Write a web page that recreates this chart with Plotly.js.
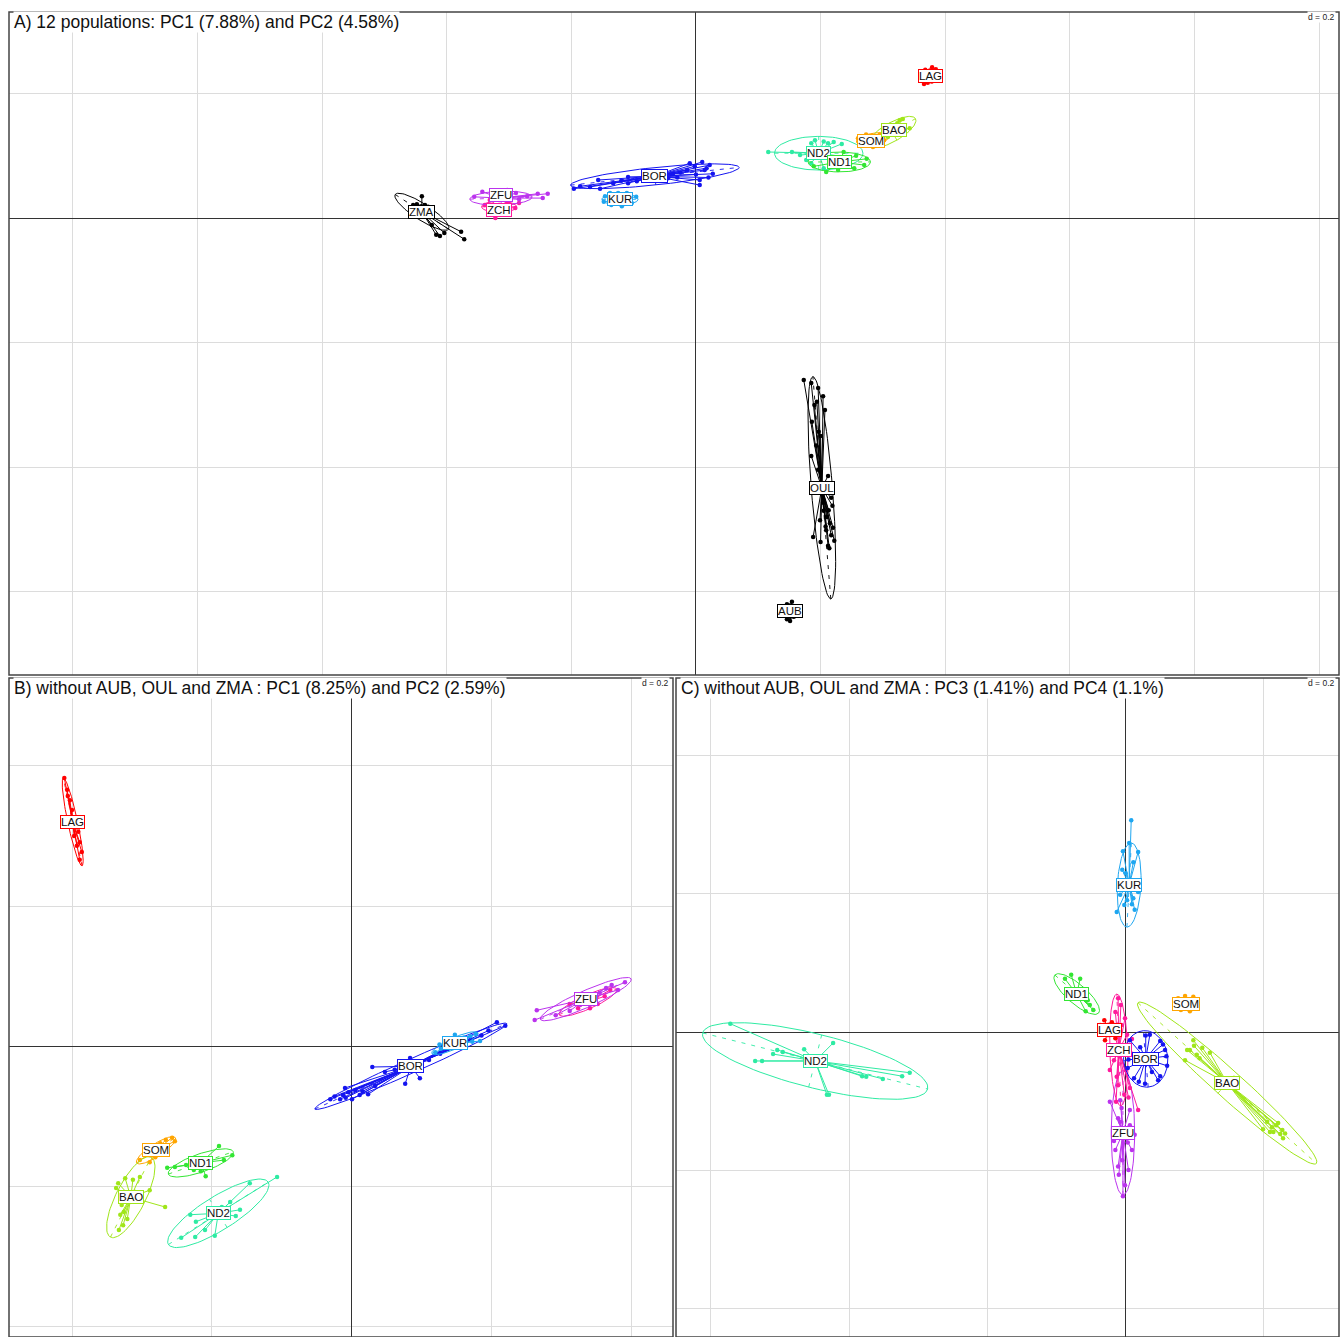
<!DOCTYPE html>
<html><head><meta charset="utf-8">
<script src="https://cdn.plot.ly/plotly-3.0.1.min.js"></script>
<style>html,body{margin:0;padding:0;background:#fff}#chart{width:1341px;height:1337px}</style>
</head><body><div id="chart"></div>
<script>
// ---------------- DATA ----------------
// Panel A: 12 populations, PC1 vs PC2
const A_pops = ['AUB','OUL','ZMA','ZCH','ZFU','KUR','BOR','ND2','ND1','SOM','BAO','LAG'];
const A_cx  = [0.151, 0.202,-0.440,-0.316,-0.313,-0.122,-0.066, 0.197, 0.230, 0.284, 0.315, 0.377];
const A_cy  = [-0.631,-0.433, 0.010, 0.018, 0.032, 0.030, 0.067, 0.104, 0.090, 0.127, 0.138, 0.228];
const A_ea  = [0.012, 0.179, 0.051, 0.028, 0.050, 0.029, 0.136, 0.071, 0.050, 0.027, 0.043, 0.012];
const A_eb  = [0.009, 0.017, 0.013, 0.009, 0.011, 0.009, 0.014, 0.027, 0.016, 0.009, 0.015, 0.007];
const A_ang = [90, 94.6, -33, 0, 2, 0, 6, 0, 0, 10, 30, 100];
const A_pts = [
 [[0.146,-0.620],[0.154,-0.616],[0.159,-0.626],[0.157,-0.640],[0.146,-0.644],[0.151,-0.647],[0.144,-0.634]],
 [[0.173,-0.260],[0.185,-0.265],[0.196,-0.273],[0.204,-0.286],[0.194,-0.295],[0.186,-0.327],[0.197,-0.343],[0.185,-0.382],[0.212,-0.414],[0.188,-0.512],[0.199,-0.485],[0.209,-0.501],[0.217,-0.509],[0.222,-0.518],[0.212,-0.526],[0.213,-0.469],[0.204,-0.457],[0.217,-0.449],[0.196,-0.404],[0.207,-0.308],
  [0.205,-0.470],[0.210,-0.480],[0.215,-0.490],[0.220,-0.497],[0.206,-0.440],[0.200,-0.520],[0.214,-0.530],[0.219,-0.462],[0.190,-0.300],[0.200,-0.350],[0.193,-0.365],[0.208,-0.495]],
 [[-0.454,0.021],[-0.448,0.022],[-0.441,0.019],[-0.435,0.021],[-0.430,0.018],[-0.451,0.016],[-0.440,0.035],[-0.417,-0.027],[-0.411,-0.029],[-0.404,-0.024],[-0.377,-0.022],[-0.372,-0.034],[-0.424,-0.011]],
 [[-0.339,0.021],[-0.327,0.010],[-0.322,0.000],[-0.311,0.006],[-0.290,0.016],[-0.284,0.024],[-0.331,0.029],[-0.303,0.027]],
 [[-0.356,0.034],[-0.343,0.042],[-0.327,0.043],[-0.303,0.045],[-0.289,0.040],[-0.271,0.035],[-0.254,0.039],[-0.238,0.039],[-0.246,0.032],[-0.284,0.030]],
 [[-0.146,0.035],[-0.138,0.040],[-0.125,0.040],[-0.111,0.040],[-0.096,0.034],[-0.103,0.024],[-0.119,0.019],[-0.136,0.021],[-0.148,0.026]],
 [[-0.196,0.047],[-0.186,0.051],[-0.157,0.061],[-0.133,0.056],[-0.109,0.066],[-0.095,0.059],[-0.037,0.071],[-0.014,0.077],[-0.002,0.083],[0.010,0.090],[0.022,0.085],[0.027,0.071],[0.006,0.061],[0.006,0.053],[-0.045,0.064],[-0.058,0.074],[-0.109,0.056],[-0.154,0.047],[-0.010,0.088],[0.014,0.077],
  [-0.170,0.050],[-0.120,0.060],[-0.080,0.065],[-0.025,0.073],[0.000,0.070],[0.017,0.080],[-0.030,0.065],[0.020,0.065]],
 [[0.116,0.106],[0.154,0.106],[0.185,0.120],[0.191,0.125],[0.212,0.120],[0.221,0.122],[0.234,0.119],[0.205,0.123],[0.177,0.093],[0.185,0.088],[0.205,0.080],[0.228,0.096],[0.241,0.098],[0.167,0.101]],
 [[0.257,0.100],[0.274,0.095],[0.270,0.085],[0.254,0.080],[0.228,0.077],[0.209,0.074],[0.189,0.083],[0.202,0.101],[0.237,0.106],[0.245,0.083]],
 [[0.260,0.128],[0.266,0.120],[0.276,0.117],[0.292,0.117],[0.302,0.125],[0.295,0.134],[0.273,0.134],[0.284,0.114]],
 [[0.327,0.157],[0.323,0.152],[0.335,0.149],[0.343,0.144],[0.308,0.130],[0.295,0.124],[0.319,0.141],[0.302,0.133],[0.332,0.159]],
 [[0.368,0.238],[0.379,0.242],[0.385,0.239],[0.388,0.231],[0.384,0.221],[0.372,0.217],[0.366,0.215],[0.371,0.225],[0.380,0.234],[0.376,0.226]]
];
const A_hidden = [];

// Panel B: without AUB, OUL and ZMA, PC1 vs PC2
const B_pops = ['LAG','SOM','ND1','BAO','ND2','BOR','KUR','ZCH','ZFU'];
const B_cx  = [-0.399,-0.280,-0.216,-0.316,-0.191, 0.084, 0.147, 0.337, 0.334];
const B_cy  = [ 0.320,-0.149,-0.167,-0.216,-0.239,-0.029, 0.004, 0.063, 0.067];
const B_ea  = [0.064, 0.033, 0.049, 0.064, 0.084, 0.150, 0.036, 0.045, 0.071];
const B_eb  = [0.007, 0.009, 0.013, 0.021, 0.024, 0.010, 0.008, 0.010, 0.012];
const B_ang = [102, 33, 19, 63, 32, 24, 24, 24, 24];
const B_pts = [
 [[-0.411,0.383],[-0.407,0.366],[-0.403,0.351],[-0.400,0.337],[-0.394,0.326],[-0.391,0.306],[-0.389,0.291],[-0.386,0.277],[-0.393,0.286],[-0.397,0.300],[-0.389,0.266],[-0.406,0.357],[-0.401,0.316]],
 [[-0.257,-0.131],[-0.266,-0.134],[-0.274,-0.139],[-0.289,-0.146],[-0.296,-0.156],[-0.303,-0.163],[-0.281,-0.159],[-0.263,-0.144],[-0.289,-0.166],[-0.253,-0.136]],
 [[-0.190,-0.143],[-0.171,-0.156],[-0.203,-0.163],[-0.264,-0.174],[-0.253,-0.173],[-0.237,-0.170],[-0.216,-0.179],[-0.209,-0.186],[-0.226,-0.177],[-0.183,-0.163]],
 [[-0.334,-0.196],[-0.324,-0.189],[-0.313,-0.191],[-0.303,-0.187],[-0.329,-0.227],[-0.331,-0.241],[-0.327,-0.256],[-0.321,-0.247],[-0.333,-0.263],[-0.267,-0.230],[-0.289,-0.206],[-0.326,-0.237],[-0.337,-0.203]],
 [[-0.107,-0.187],[-0.146,-0.196],[-0.160,-0.234],[-0.166,-0.243],[-0.231,-0.241],[-0.223,-0.251],[-0.244,-0.274],[-0.224,-0.273],[-0.210,-0.263],[-0.196,-0.271],[-0.174,-0.223],[-0.186,-0.230]],
 [[-0.013,-0.070],[-0.009,-0.074],[-0.017,-0.076],[0.000,-0.076],[0.011,-0.070],[0.033,-0.057],[0.023,-0.069],[-0.031,-0.076],[-0.010,-0.060],[0.029,-0.030],[0.076,-0.054],[0.097,-0.046],[0.083,-0.017],[0.126,-0.011],[0.143,0.000],[0.169,0.009],[0.207,0.034],[0.219,0.029],[0.047,-0.037],[0.061,-0.034],
  [-0.025,-0.072],[-0.005,-0.066],[0.005,-0.063],[0.015,-0.065],[0.150,0.005],[0.160,0.003],[0.135,-0.004],[0.110,-0.020],[0.185,0.015],[0.195,0.022]],
 [[0.119,-0.009],[0.127,-0.004],[0.140,0.001],[0.154,0.009],[0.169,0.014],[0.177,0.017],[0.163,0.000],[0.134,0.009],[0.183,0.007],[0.147,0.016],[0.150,0.005],[0.160,0.012],[0.172,0.006],[0.125,0.002]],
 [[0.311,0.060],[0.323,0.054],[0.340,0.054],[0.351,0.060],[0.361,0.071],[0.349,0.071],[0.330,0.064],[0.369,0.080]],
 [[0.264,0.051],[0.261,0.037],[0.291,0.044],[0.311,0.050],[0.326,0.059],[0.354,0.076],[0.363,0.083],[0.371,0.087],[0.380,0.080],[0.349,0.061],[0.340,0.071],[0.390,0.091]]
];
const B_hidden = ['ZCH'];   // label covered by ZFU in the reference

// Panel C: without AUB, OUL and ZMA, PC3 vs PC4
const C_pops = ['ND2','BAO','ZFU','ZCH','BOR','LAG','SOM','ND1','KUR'];
const C_cx  = [-0.449, 0.148,-0.003,-0.009, 0.030,-0.023, 0.088,-0.070, 0.006];
const C_cy  = [-0.042,-0.074,-0.146,-0.026,-0.039, 0.003, 0.041, 0.055, 0.213];
const C_ea  = [0.168, 0.174, 0.090, 0.081, 0.041, 0.014, 0.016, 0.042, 0.061];
const C_eb  = [0.039, 0.020, 0.017, 0.013, 0.032, 0.010, 0.008, 0.014, 0.017];
const C_ang = [-14, -42, 90, 92, 95, 0, 10, -41, 87];
const C_pts = [
 [[-0.572,0.012],[-0.536,-0.042],[-0.526,-0.042],[-0.510,-0.032],[-0.504,-0.026],[-0.496,-0.029],[-0.465,-0.025],[-0.423,-0.016],[-0.432,-0.091],[-0.429,-0.091],[-0.381,-0.064],[-0.375,-0.065],[-0.351,-0.068],[-0.323,-0.064],[-0.312,-0.059]],
 [[0.094,-0.026],[0.104,-0.033],[0.087,-0.041],[0.123,-0.030],[0.112,-0.023],[0.099,-0.012],[0.090,-0.026],[0.213,-0.138],[0.228,-0.142],[0.229,-0.154],[0.200,-0.141],[0.219,-0.135],[0.225,-0.148],[0.206,-0.130],
  [0.215,-0.145],[0.222,-0.132],[0.210,-0.145],[0.232,-0.147],[0.100,-0.020],[0.108,-0.038]],
 [[-0.022,-0.101],[-0.007,-0.099],[0.007,-0.113],[-0.010,-0.125],[0.007,-0.135],[-0.016,-0.158],[0.010,-0.171],[-0.004,-0.186],[-0.009,-0.207],[0.000,-0.222],[-0.003,-0.238],[-0.014,-0.171],[0.014,-0.149],
  [-0.005,-0.110],[0.004,-0.160],[-0.010,-0.195],[0.005,-0.200],[-0.007,-0.130]],
 [[-0.010,0.049],[-0.006,0.039],[-0.014,0.029],[0.000,0.020],[-0.017,0.003],[0.003,-0.004],[-0.007,-0.019],[-0.016,-0.041],[0.001,-0.055],[-0.010,-0.077],[-0.001,-0.091],[0.019,-0.113],[-0.013,-0.101],[0.007,-0.081],[-0.022,-0.055],
  [-0.005,0.010],[0.008,-0.030],[-0.012,-0.065],[0.005,-0.095],[-0.008,-0.035],[0.010,-0.010]],
 [[0.007,-0.012],[0.036,-0.004],[0.051,-0.013],[0.058,-0.026],[0.061,-0.049],[0.051,-0.064],[0.029,-0.075],[0.013,-0.067],[0.004,-0.052],[0.009,-0.032],[0.045,-0.041],[0.022,-0.022],[0.039,-0.058],
  [0.030,-0.005],[0.048,-0.070],[0.060,-0.035],[0.005,-0.040],[0.020,-0.072],[0.055,-0.018]],
 [[-0.036,0.010],[-0.030,0.017],[-0.019,0.014],[-0.010,0.006],[-0.014,-0.009],[-0.029,-0.012],[-0.036,-0.004]],
 [[0.077,0.049],[0.087,0.052],[0.099,0.051],[0.103,0.042],[0.094,0.030],[0.081,0.032],[0.074,0.039]],
 [[-0.078,0.083],[-0.087,0.077],[-0.065,0.077],[-0.051,0.039],[-0.046,0.032],[-0.054,0.046],[-0.065,0.054],[-0.080,0.061],[-0.057,0.030]],
 [[0.009,0.307],[0.006,0.274],[0.019,0.261],[-0.003,0.262],[-0.004,0.235],[0.012,0.246],[-0.007,0.199],[-0.012,0.174],[-0.001,0.184],[0.012,0.194],[0.019,0.203],[0.007,0.220],[0.003,0.191],[0.014,0.177],
  [0.001,0.230],[0.010,0.185],[-0.006,0.210],[0.016,0.215]]
];
const C_hidden = [];

const titles = [
 'A) 12 populations: PC1 (7.88%) and PC2 (4.58%)',
 'B) without AUB, OUL and ZMA : PC1 (8.25%) and PC2 (2.59%)',
 'C) without AUB, OUL and ZMA : PC3 (1.41%) and PC4 (1.1%)'
];
const gridLabel = 'd = 0.2';

// ---------------- STYLE ----------------
const popColors = {
 LAG:'#FF0000', SOM:'#FFA500', BAO:'#A0E619', ND1:'#33E633', ND2:'#2EEBA3',
 KUR:'#1EA6F0', BOR:'#1414F0', ZFU:'#BB33EE', ZCH:'#FF1A9C',
 OUL:'#000000', AUB:'#000000', ZMA:'#000000'
};
// small pixel nudges for crowded labels: [panel, pop, xshift, yshift]
const labelNudges = [[0,'ZFU',0,3],[0,'ZCH',0,-3],[0,'BAO',2,2],[0,'SOM',-2,-2]];
const W = 1341, H = 1337;
const FONT = 'Liberation Sans, Arial, Helvetica, sans-serif';

// panel frames in pixels: [left, top, right, bottom]
const frames = [[9,12,1339,675],[9,678,673,1337],[676,678,1339,1337]];
// axis ranges
const xr = [[-1.1027,1.0321],[-0.49,0.4586],[-0.6507,0.3101]];
const yr = [[-0.7335,0.3307],[-0.4157,0.5257],[-0.4420,0.5130]];

const traces = [];
const annotations = [];
const shapes = [];

function ellipsePath(cx,cy,a,b,deg){
  const t = deg*Math.PI/180, xs=[], ys=[];
  for(let i=0;i<=90;i++){
    const u = i/90*2*Math.PI, ex=a*Math.cos(u), ey=b*Math.sin(u);
    xs.push(cx+ex*Math.cos(t)-ey*Math.sin(t));
    ys.push(cy+ex*Math.sin(t)+ey*Math.cos(t));
  }
  return [xs,ys];
}

function addPanel(k, pops, cx, cy, ea, eb, ang, pts, hidden){
  const xa = k===0 ? 'x' : 'x'+(k+1);
  const ya = k===0 ? 'y' : 'y'+(k+1);
  pops.forEach((p,i)=>{
    const col = popColors[p];
    const sx=[], sy=[];
    pts[i].forEach(q=>{ sx.push(cx[i],q[0],null); sy.push(cy[i],q[1],null); });
    traces.push({type:'scatter',mode:'lines',x:sx,y:sy,xaxis:xa,yaxis:ya,
      line:{color:col,width:1},hoverinfo:'skip',showlegend:false});
    const [exs,eys] = ellipsePath(cx[i],cy[i],ea[i],eb[i],ang[i]);
    traces.push({type:'scatter',mode:'lines',x:exs,y:eys,xaxis:xa,yaxis:ya,
      line:{color:col,width:1},hoverinfo:'skip',showlegend:false});
    const t = ang[i]*Math.PI/180;
    const ax=[cx[i]-ea[i]*Math.cos(t), cx[i]+ea[i]*Math.cos(t), null,
              cx[i]+eb[i]*Math.sin(t), cx[i]-eb[i]*Math.sin(t)];
    const ay=[cy[i]-ea[i]*Math.sin(t), cy[i]+ea[i]*Math.sin(t), null,
              cy[i]-eb[i]*Math.cos(t), cy[i]+eb[i]*Math.cos(t)];
    traces.push({type:'scatter',mode:'lines',x:ax,y:ay,xaxis:xa,yaxis:ya,
      line:{color:col,width:0.9,dash:'4px,6px'},hoverinfo:'skip',showlegend:false});
    traces.push({type:'scatter',mode:'markers',x:pts[i].map(q=>q[0]),y:pts[i].map(q=>q[1]),
      xaxis:xa,yaxis:ya,marker:{color:col,size:4.5},hoverinfo:'skip',showlegend:false});
  });
  pops.forEach((p,i)=>{
    if(hidden.indexOf(p)>=0) return;
    const n = labelNudges.find(r=>r[0]===k && r[1]===p) || [k,p,0,0];
    annotations.push({xref:xa,yref:ya,x:cx[i],y:cy[i],text:p,showarrow:false,
      xshift:n[2],yshift:n[3],
      font:{family:FONT,size:11.5,color:'#111'},bgcolor:'#ffffff',
      bordercolor:popColors[p],borderwidth:1,borderpad:0,xanchor:'center',yanchor:'middle'});
  });
}

addPanel(0, A_pops, A_cx, A_cy, A_ea, A_eb, A_ang, A_pts, A_hidden);
addPanel(1, B_pops, B_cx, B_cy, B_ea, B_eb, B_ang, B_pts, B_hidden);
addPanel(2, C_pops, C_cx, C_cy, C_ea, C_eb, C_ang, C_pts, C_hidden);

const layout = {
  width:W, height:H, margin:{l:0,r:0,t:0,b:0},
  paper_bgcolor:'#fff', plot_bgcolor:'#fff', showlegend:false,
  font:{family:FONT}
};
frames.forEach((f,k)=>{
  const xn = k===0 ? 'xaxis' : 'xaxis'+(k+1);
  const yn = k===0 ? 'yaxis' : 'yaxis'+(k+1);
  const ya = k===0 ? 'y' : 'y'+(k+1);
  const xa = k===0 ? 'x' : 'x'+(k+1);
  const common = {showgrid:true,gridcolor:'#dcdcdc',gridwidth:1,dtick:0.2,tick0:0,
    zeroline:true,zerolinecolor:'#333',zerolinewidth:1,showticklabels:false,ticks:'',
    showline:false,fixedrange:true};
  layout[xn] = Object.assign({},common,{domain:[f[0]/W,f[2]/W],range:xr[k],anchor:ya});
  layout[yn] = Object.assign({},common,{domain:[1-f[3]/H,1-f[1]/H],range:yr[k],anchor:xa});
  shapes.push({type:'rect',xref:'paper',yref:'paper',x0:f[0]/W,x1:f[2]/W,y0:1-f[3]/H,y1:1-f[1]/H,
    line:{color:'#444',width:1.5},fillcolor:'rgba(0,0,0,0)',layer:'above'});
  annotations.push({xref:'paper',yref:'paper',x:(f[0]+4)/W,y:1-(f[1]+9.5)/H,text:titles[k],
    showarrow:false,xanchor:'left',yanchor:'middle',font:{family:FONT,size:17.5,color:'#111'},
    bgcolor:'#ffffff',borderpad:0});
  annotations.push({xref:'paper',yref:'paper',x:(f[2]-3)/W,y:1-(f[1]+5)/H,text:gridLabel,
    showarrow:false,xanchor:'right',yanchor:'middle',font:{family:FONT,size:8.5,color:'#222'},
    bgcolor:'#ffffff',borderpad:0});
});
layout.shapes = shapes;
layout.annotations = annotations;

Plotly.newPlot('chart', traces, layout, {displayModeBar:false, staticPlot:true});
</script>
</body></html>
